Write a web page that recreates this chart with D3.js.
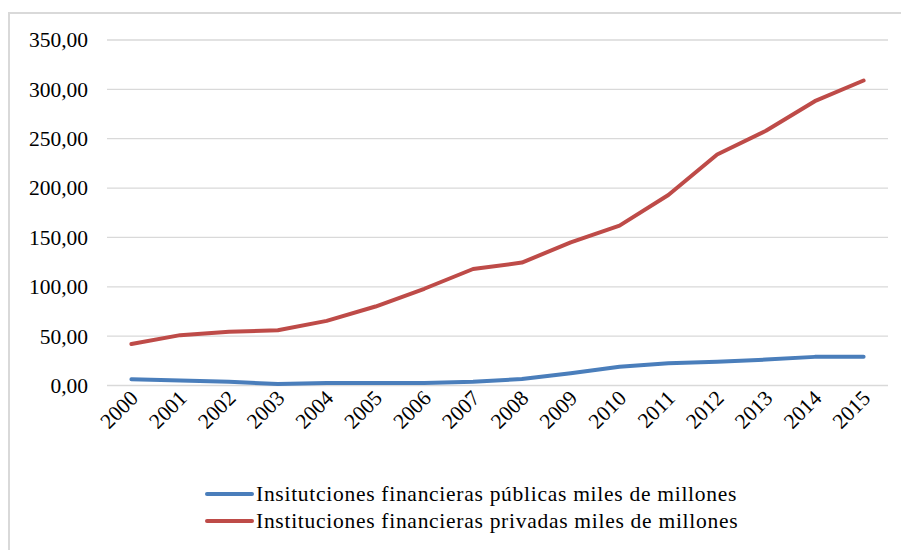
<!DOCTYPE html>
<html>
<head>
<meta charset="utf-8">
<script src="https://cdn.jsdelivr.net/npm/d3@7"></script>
<style>
  html, body { margin: 0; padding: 0; background: #fff; }
  svg { display: block; }
</style>
</head>
<body>
<svg id="chart" width="901" height="550"></svg>
<script>
// Years on the category axis
const years = ["2000","2001","2002","2003","2004","2005","2006","2007",
               "2008","2009","2010","2011","2012","2013","2014","2015"];

// Public financial institutions, thousands of millions
const publicas = [6.3, 5.0, 3.8, 1.5, 2.5, 2.5, 2.5, 3.8,
                  6.6, 12.5, 19.0, 22.5, 24.0, 26.3, 29.0, 29.0];

// Private financial institutions, thousands of millions
const privadas = [42, 51, 54.5, 56, 65.5, 80, 98, 118,
                  124.5, 145, 162, 193, 234, 258, 288, 309];

// Value-axis ticks
const yTicks = [0, 50, 100, 150, 200, 250, 300, 350];

const seriesNames = [
  "Insitutciones financieras públicas miles de millones",
  "Instituciones financieras privadas miles de millones"
];
const seriesColors = ["#4a7ebb", "#be4b48"];

const svg = d3.select("#chart");
const fontFamily = '"Liberation Serif", "Times New Roman", serif';
const fontSize = "21.5px";

// Outer chart-area frame
svg.append("rect")
  .attr("x", 9).attr("y", 13)
  .attr("width", 910).attr("height", 560)
  .attr("fill", "#fff")
  .attr("stroke", "#d9d9d9").attr("stroke-width", 2);

const plot = { left: 107, right: 888, top: 40, bottom: 385.5 };

const x = d3.scaleBand().domain(years).range([plot.left, plot.right]);
const y = d3.scaleLinear().domain([0, 350]).range([plot.bottom, plot.top]);

// Horizontal gridlines
svg.append("g")
  .selectAll("line")
  .data(yTicks)
  .join("line")
  .attr("x1", plot.left).attr("x2", plot.right)
  .attr("y1", d => y(d)).attr("y2", d => y(d))
  .attr("stroke", "#d9d9d9").attr("stroke-width", 1.3);

// Value axis labels
const fmt = d => d3.format(".2f")(d).replace(".", ",");
const yAxis = d3.axisLeft(y).tickValues(yTicks).tickFormat(fmt).tickSize(0).tickPadding(19);
const gy = svg.append("g").attr("transform", `translate(${plot.left},0)`).call(yAxis);
gy.select(".domain").remove();
gy.selectAll("text")
  .style("font-family", fontFamily).style("font-size", fontSize)
  .attr("fill", "#000");

// Category axis labels, rotated
const xAxis = d3.axisBottom(x).tickSize(0).tickPadding(0);
const gx = svg.append("g").attr("transform", `translate(0,${plot.bottom})`).call(xAxis);
gx.select(".domain").remove();
gx.selectAll("text")
  .style("font-family", fontFamily).style("font-size", fontSize)
  .attr("fill", "#000")
  .attr("text-anchor", "end")
  .attr("dy", null)
  .attr("transform", "translate(8,14) rotate(-45)");

// Series lines
const line = d3.line()
  .x((d, i) => x(years[i]) + x.bandwidth() / 2)
  .y(d => y(d));

[publicas, privadas].forEach((vals, k) => {
  svg.append("path")
    .datum(vals)
    .attr("d", line)
    .attr("fill", "none")
    .attr("stroke", seriesColors[k])
    .attr("stroke-width", 4)
    .attr("stroke-linejoin", "round")
    .attr("stroke-linecap", "round");
});

// Legend
const legend = svg.append("g");
seriesNames.forEach((name, k) => {
  const ly = 494 + k * 27;
  legend.append("line")
    .attr("x1", 207).attr("x2", 252)
    .attr("y1", ly).attr("y2", ly)
    .attr("stroke", seriesColors[k]).attr("stroke-width", 4)
    .attr("stroke-linecap", "round");
  legend.append("text")
    .attr("x", 256).attr("y", ly + 7)
    .style("font-family", fontFamily).style("font-size", fontSize)
    .style("letter-spacing", "0.72px")
    .attr("fill", "#000")
    .text(name);
});
</script>
</body>
</html>
